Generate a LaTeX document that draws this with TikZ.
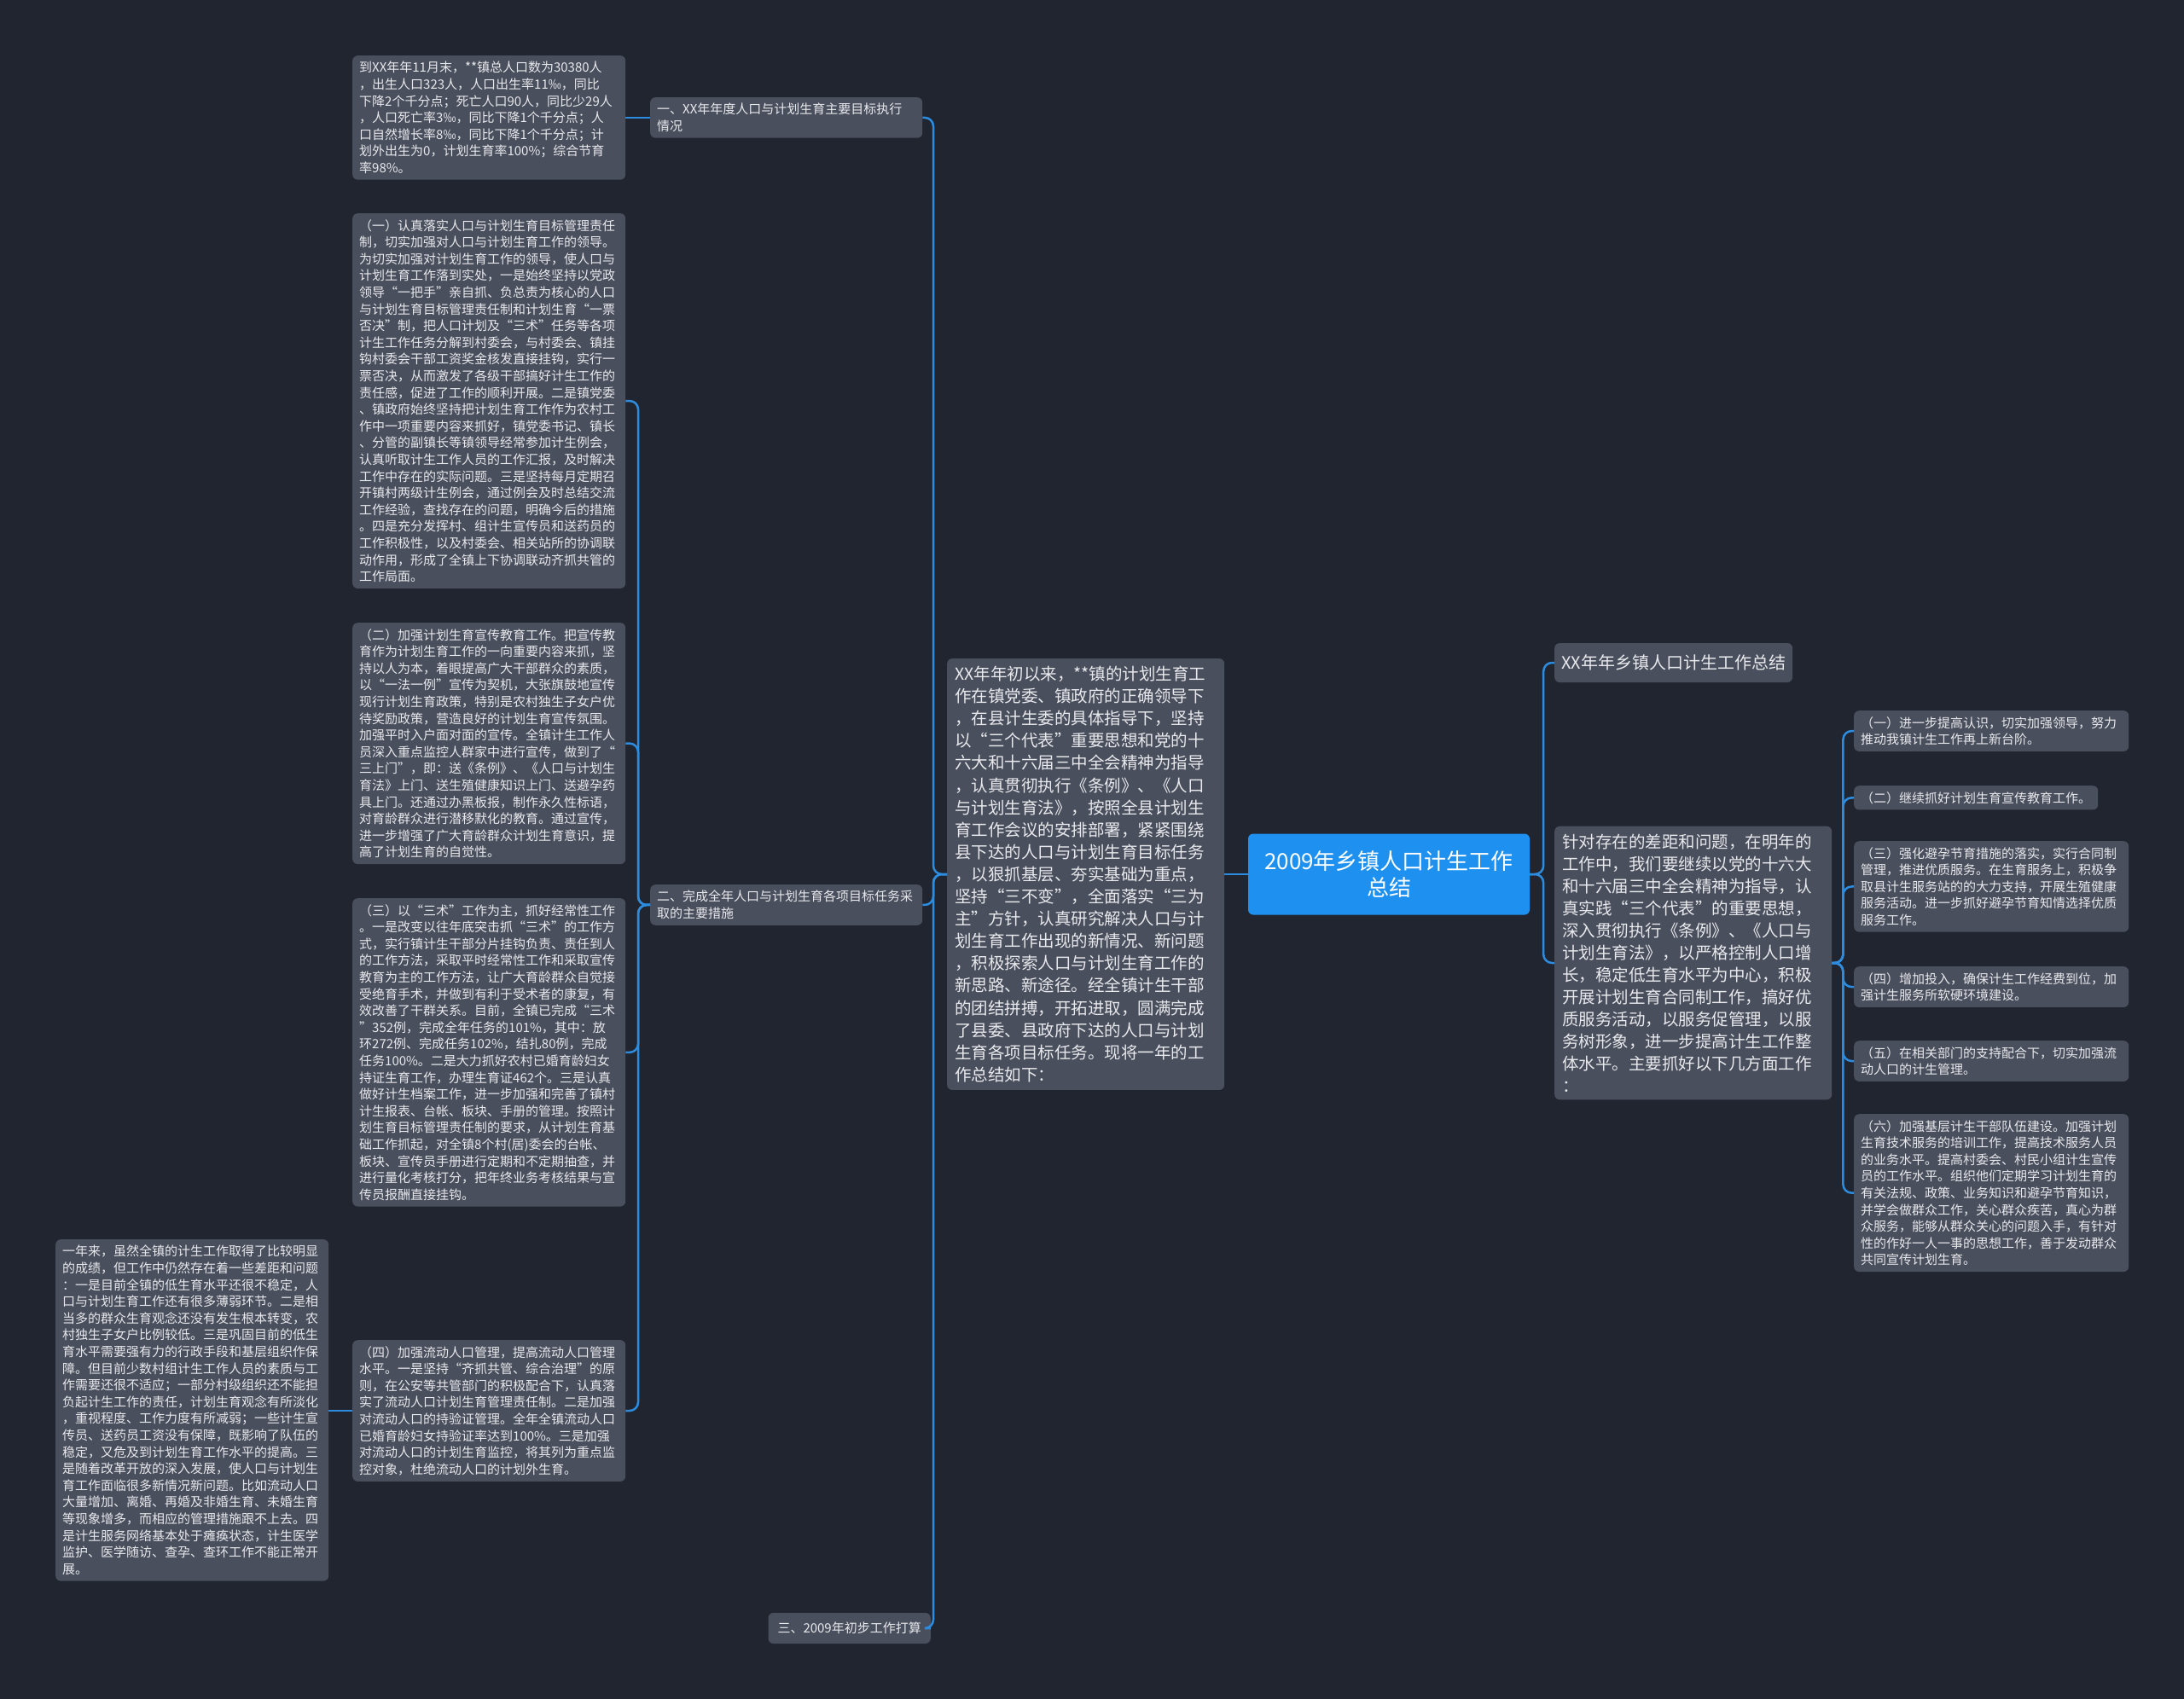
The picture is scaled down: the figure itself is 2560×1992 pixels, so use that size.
\documentclass[tikz,border=0pt]{standalone}
\usepackage{fontspec}
\setmainfont{Noto Sans CJK SC}
\definecolor{bgc}{RGB}{33,37,48}
\definecolor{boxc}{RGB}{74,79,94}
\definecolor{txtc}{RGB}{232,233,236}
\definecolor{rootc}{RGB}{30,145,240}
\definecolor{linec}{RGB}{45,140,222}
\tikzset{
  smallbox/.style={fill=boxc, rounded corners=6pt, text=txtc, align=left, inner xsep=8pt, inner ysep=7pt, anchor=north west, font=\fontsize{15}{19.6}\selectfont},
  bigbox/.style={fill=boxc, rounded corners=6pt, text=txtc, align=left, inner xsep=9pt, inner ysep=9pt, text width=307pt, anchor=west, font=\fontsize{19.5}{26.1}\selectfont},
  rootbox/.style={fill=rootc, rounded corners=6pt, text=white, align=center, minimum width=330pt, minimum height=95pt, font=\fontsize{26}{31}\selectfont},
  conn/.style={draw=linec, line width=2.5pt, rounded corners=10pt}
}
\begin{document}
\begin{tikzpicture}[x=1pt,y=-1pt]
\fill[bgc] (0,0) rectangle (2560,1992);
\useasboundingbox (0,0) rectangle (2560,1992);

% left column
\node[smallbox, text width=304pt] (A0) at (413,65) {到XX年年11月末，**镇总人口数为30380人\\，出生人口323人，人口出生率11‰，同比\\下降2个千分点；死亡人口90人，同比少29人\\，人口死亡率3‰，同比下降1个千分点；人\\口自然增长率8‰，同比下降1个千分点；计\\划外出生为0，计划生育率100\%；综合节育\\率98\%。};

\node[smallbox, text width=304pt] (B1) at (413,250) {（一）认真落实人口与计划生育目标管理责任\\制，切实加强对人口与计划生育工作的领导。\\为切实加强对计划生育工作的领导，使人口与\\计划生育工作落到实处，一是始终坚持以党政\\领导“一把手”亲自抓、负总责为核心的人口\\与计划生育目标管理责任制和计划生育“一票\\否决”制，把人口计划及“三术”任务等各项\\计生工作任务分解到村委会，与村委会、镇挂\\钩村委会干部工资奖金核发直接挂钩，实行一\\票否决，从而激发了各级干部搞好计生工作的\\责任感，促进了工作的顺利开展。二是镇党委\\、镇政府始终坚持把计划生育工作作为农村工\\作中一项重要内容来抓好，镇党委书记、镇长\\、分管的副镇长等镇领导经常参加计生例会，\\认真听取计生工作人员的工作汇报，及时解决\\工作中存在的实际问题。三是坚持每月定期召\\开镇村两级计生例会，通过例会及时总结交流\\工作经验，查找存在的问题，明确今后的措施\\。四是充分发挥村、组计生宣传员和送药员的\\工作积极性，以及村委会、相关站所的协调联\\动作用，形成了全镇上下协调联动齐抓共管的\\工作局面。};

\node[smallbox, text width=304pt] (B2) at (413,730) {（二）加强计划生育宣传教育工作。把宣传教\\育作为计划生育工作的一向重要内容来抓，坚\\持以人为本，着眼提高广大干部群众的素质，\\以“一法一例”宣传为契机，大张旗鼓地宣传\\现行计划生育政策，特别是农村独生子女户优\\待奖励政策，营造良好的计划生育宣传氛围。\\加强平时入户面对面的宣传。全镇计生工作人\\员深入重点监控人群家中进行宣传，做到了“\\三上门”，即：送《条例》、《人口与计划生\\育法》上门、送生殖健康知识上门、送避孕药\\具上门。还通过办黑板报，制作永久性标语，\\对育龄群众进行潜移默化的教育。通过宣传，\\进一步增强了广大育龄群众计划生育意识，提\\高了计划生育的自觉性。};

\node[smallbox, text width=304pt] (B3) at (413,1053) {（三）以“三术”工作为主，抓好经常性工作\\。一是改变以往年底突击抓“三术”的工作方\\式，实行镇计生干部分片挂钩负责、责任到人\\的工作方法，采取平时经常性工作和采取宣传\\教育为主的工作方法，让广大育龄群众自觉接\\受绝育手术，并做到有利于受术者的康复，有\\效改善了干群关系。目前，全镇已完成“三术\\”352例，完成全年任务的101\%，其中：放\\环272例、完成任务102\%，结扎80例，完成\\任务100\%。二是大力抓好农村已婚育龄妇女\\持证生育工作，办理生育证462个。三是认真\\做好计生档案工作，进一步加强和完善了镇村\\计生报表、台帐、板块、手册的管理。按照计\\划生育目标管理责任制的要求，从计划生育基\\础工作抓起，对全镇8个村(居)委会的台帐、\\板块、宣传员手册进行定期和不定期抽查，并\\进行量化考核打分，把年终业务考核结果与宣\\传员报酬直接挂钩。};

\node[smallbox, text width=304pt] (B4) at (413,1571) {（四）加强流动人口管理，提高流动人口管理\\水平。一是坚持“齐抓共管、综合治理”的原\\则，在公安等共管部门的积极配合下，认真落\\实了流动人口计划生育管理责任制。二是加强\\对流动人口的持验证管理。全年全镇流动人口\\已婚育龄妇女持验证率达到100\%。三是加强\\对流动人口的计划生育监控，将其列为重点监\\控对象，杜绝流动人口的计划外生育。};

\node[smallbox, text width=304pt] (C) at (65,1453) {一年来，虽然全镇的计生工作取得了比较明显\\的成绩，但工作中仍然存在着一些差距和问题\\：一是目前全镇的低生育水平还很不稳定，人\\口与计划生育工作还有很多薄弱环节。二是相\\当多的群众生育观念还没有发生根本转变，农\\村独生子女户比例较低。三是巩固目前的低生\\育水平需要强有力的行政手段和基层组织作保\\障。但目前少数村组计生工作人员的素质与工\\作需要还很不适应；一部分村级组织还不能担\\负起计生工作的责任，计划生育观念有所淡化\\，重视程度、工作力度有所减弱；一些计生宣\\传员、送药员工资没有保障，既影响了队伍的\\稳定，又危及到计划生育工作水平的提高。三\\是随着改革开放的深入发展，使人口与计划生\\育工作面临很多新情况新问题。比如流动人口\\大量增加、离婚、再婚及非婚生育、未婚生育\\等现象增多，而相应的管理措施跟不上去。四\\是计生服务网络基本处于瘫痪状态，计生医学\\监护、医学随访、查孕、查环工作不能正常开\\展。};

% level-1 left
\node[smallbox, text width=303pt] (L1a) at (762,114) {一、XX年年度人口与计划生育主要目标执行\\情况};
\node[smallbox, text width=303pt] (L1b) at (762,1037) {二、完成全年人口与计划生育各项目标任务采\\取的主要措施};
\node[smallbox, anchor=east, inner xsep=11pt, minimum height=36pt] (L1c) at (1091,1909) {三、2009年初步工作打算};

% centre
\node[bigbox] (ctext) at (1110,1025) {XX年年初以来，**镇的计划生育工\\作在镇党委、镇政府的正确领导下\\，在县计生委的具体指导下，坚持\\以“三个代表”重要思想和党的十\\六大和十六届三中全会精神为指导\\，认真贯彻执行《条例》、《人口\\与计划生育法》，按照全县计划生\\育工作会议的安排部署，紧紧围绕\\县下达的人口与计划生育目标任务\\，以狠抓基层、夯实基础为重点，\\坚持“三不变”，全面落实“三为\\主”方针，认真研究解决人口与计\\划生育工作出现的新情况、新问题\\，积极探索人口与计划生育工作的\\新思路、新途径。经全镇计生干部\\的团结拼搏，开拓进取，圆满完成\\了县委、县政府下达的人口与计划\\生育各项目标任务。现将一年的工\\作总结如下：};

\node[rootbox] (root) at (1628,1025) {2009年乡镇人口计生工作\\总结};

% right
\node[smallbox, anchor=west, font=\fontsize{20}{24}\selectfont, minimum height=46pt, inner xsep=8pt] (R1) at (1822,777) {XX年年乡镇人口计生工作总结};
\node[bigbox, font=\fontsize{19.5}{26}\selectfont] (R2) at (1822,1129) {针对存在的差距和问题，在明年的\\工作中，我们要继续以党的十六大\\和十六届三中全会精神为指导，认\\真实践“三个代表”的重要思想，\\深入贯彻执行《条例》、《人口与\\计划生育法》，以严格控制人口增\\长，稳定低生育水平为中心，积极\\开展计划生育合同制工作，搞好优\\质服务活动，以服务促管理，以服\\务树形象，进一步提高计生工作整\\体水平。主要抓好以下几方面工作\\：};

\node[smallbox, text width=306pt] (S1) at (2173,833) {（一）进一步提高认识，切实加强领导，努力\\推动我镇计生工作再上新台阶。};
\node[smallbox] (S2) at (2173,921) {（二）继续抓好计划生育宣传教育工作。};
\node[smallbox, text width=306pt] (S3) at (2173,986) {（三）强化避孕节育措施的落实，实行合同制\\管理，推进优质服务。在生育服务上，积极争\\取县计生服务站的的大力支持，开展生殖健康\\服务活动。进一步抓好避孕节育知情选择优质\\服务工作。};
\node[smallbox, text width=306pt] (S4) at (2173,1133) {（四）增加投入，确保计生工作经费到位，加\\强计生服务所软硬环境建设。};
\node[smallbox, text width=306pt] (S5) at (2173,1220) {（五）在相关部门的支持配合下，切实加强流\\动人口的计生管理。};
\node[smallbox, text width=306pt] (S6) at (2173,1306) {（六）加强基层计生干部队伍建设。加强计划\\生育技术服务的培训工作，提高技术服务人员\\的业务水平。提高村委会、村民小组计生宣传\\员的工作水平。组织他们定期学习计划生育的\\有关法规、政策、业务知识和避孕节育知识，\\并学会做群众工作，关心群众疾苦，真心为群\\众服务，能够从群众关心的问题入手，有针对\\性的作好一人一事的思想工作，善于发动群众\\共同宣传计划生育。};

% connectors
\draw[conn] (ctext.west) -- ++(-16,0) |- (L1a.east);
\draw[conn] (ctext.west) -- ++(-16,0) |- (L1b.east);
\draw[conn] (ctext.west) -- ++(-16,0) |- (L1c.east);
\draw[conn] (L1a.west) -- (L1a.west -| A0.east);
\draw[conn] (L1b.west) -- ++(-14,0) |- (B1.east);
\draw[conn] (L1b.west) -- ++(-14,0) |- (B2.east);
\draw[conn] (L1b.west) -- ++(-14,0) |- (B3.east);
\draw[conn] (L1b.west) -- ++(-14,0) |- (B4.east);
\draw[conn] (B4.west) -- (B4.west -| C.east);
\draw[conn] (ctext.east) -- (root.west);
\draw[conn] (root.east) -- ++(16,0) |- (R1.west);
\draw[conn] (root.east) -- ++(16,0) |- (R2.west);
\draw[conn] (R2.east) -- ++(13,0) |- (S1.west);
\draw[conn] (R2.east) -- ++(13,0) |- (S2.west);
\draw[conn] (R2.east) -- ++(13,0) |- (S3.west);
\draw[conn] (R2.east) -- ++(13,0) |- (S4.west);
\draw[conn] (R2.east) -- ++(13,0) |- (S5.west);
\draw[conn] (R2.east) -- ++(13,0) |- (S6.west);
\end{tikzpicture}
\end{document}
